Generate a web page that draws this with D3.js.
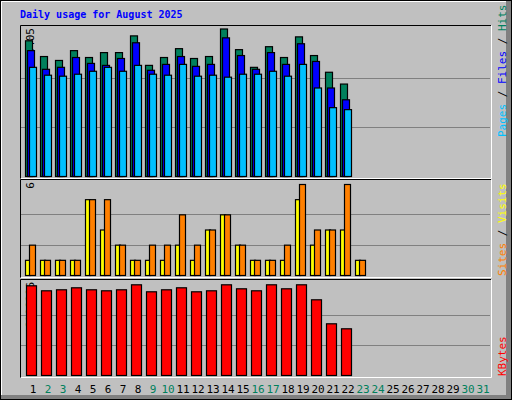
<!DOCTYPE html>
<html>
<head>
<meta charset="utf-8">
<script src="https://cdn.jsdelivr.net/npm/d3@7"></script>
<style>body{margin:0;background:#fff}</style>
</head>
<body>
<svg id="chart" width="512" height="400"></svg>
<script>
// values, day 1..23 (23 is an empty day)
const days = d3.range(1, 32);
const weekend = [2, 3, 9, 10, 16, 17, 23, 24, 30, 31];
const hits = [21532, 19036, 18412, 19972, 18880, 19660, 19660, 22312, 17632, 18880, 20284, 18724, 19036, 23405, 20128, 17320, 20596, 18880, 22156, 19192, 16540, 14667, 0];
const files = [19972, 17008, 17320, 18880, 17944, 17632, 18724, 21220, 16852, 17788, 19036, 17476, 17788, 22000, 19192, 17008, 19660, 17788, 21064, 18256, 14043, 12170, 0];
const pages = [17320, 16072, 15916, 16228, 16696, 17320, 16696, 17632, 16228, 16072, 17788, 15916, 16072, 15760, 16228, 16228, 16696, 15916, 17788, 14043, 10923, 10610, 0];
const visits = [1, 1, 1, 1, 5, 3, 2, 1, 1, 1, 2, 1, 3, 4, 2, 1, 1, 1, 5, 2, 3, 3, 1];
const sites = [2, 1, 1, 1, 5, 5, 2, 1, 2, 2, 4, 2, 3, 4, 2, 1, 1, 2, 6, 3, 3, 6, 1];
const kbytes = [6909080, 6523950, 6600980, 6755030, 6600980, 6523950, 6600980, 6986106, 6446920, 6600980, 6755030, 6446920, 6523950, 6986106, 6678000, 6523950, 6986106, 6678000, 6986106, 5830790, 3982200, 3597070, 0];

const svg = d3.select("#chart");
const mono = "DejaVu Sans Mono";

// frame
svg.append("rect").attr("x", 0.5).attr("y", 0.5).attr("width", 511).attr("height", 399)
    .attr("fill", "#c0c0c0").attr("stroke", "#000");
svg.append("rect").attr("x", 506).attr("y", 1).attr("width", 5).attr("height", 398).attr("fill", "#808080");
svg.append("rect").attr("x", 1).attr("y", 395).attr("width", 510).attr("height", 4).attr("fill", "#808080");
svg.append("path").attr("d", "M1.5,395V1.5H506").attr("stroke", "#fff").attr("fill", "none");

svg.append("text").attr("x", 20).attr("y", 18).attr("font-family", mono).attr("font-weight", "bold")
    .attr("font-size", 10).attr("fill", "#0000ff").text("Daily usage for August 2025");

const x = d3.scaleBand().domain(days).range([22, 487]);

// panels: top, baseline, max value
const panels = [
    {y0: 25, base: 176, top: 28.5, max: d3.max(hits)},
    {y0: 179, base: 275, top: 184, max: d3.max(sites)},
    {y0: 279, base: 375, top: 284.3, max: d3.max(kbytes)}
];
panels.forEach(p => {
    p.y = d3.scaleLinear().domain([0, p.max]).range([p.base, p.top]);
    svg.append("rect").attr("x", 20).attr("y", p.y0).attr("width", 471).attr("height", p.base + 2 - p.y0)
        .attr("fill", "#c0c0c0");
    svg.append("path").attr("d", `M20.5,${p.base + 2.5}V${p.y0 + 0.5}H491`).attr("stroke", "#000").attr("fill", "none");
    svg.append("path").attr("d", `M21,${p.base + 2.5}H491.5V${p.y0 + 0.5}`).attr("stroke", "#fff").attr("fill", "none");
    [1 / 3, 2 / 3].forEach(f => {
        const gy = Math.round(p.base - (p.base - p.top) * f) + 0.5;
        svg.append("line").attr("x1", 21).attr("x2", 490).attr("y1", gy).attr("y2", gy).attr("stroke", "#808080");
    });
    svg.append("text").attr("transform", `translate(34,${p.y0 + 3}) rotate(-90)`).attr("text-anchor", "end")
        .attr("font-family", mono).attr("font-size", 11).text(p.max);
});

function bars(data, panel, dx, w, color) {
    svg.append("g").selectAll("rect").data(data).join("rect")
        .attr("x", (d, i) => x(i + 1) + dx + 0.5)
        .attr("y", d => panel.y(d) + 0.5)
        .attr("width", w)
        .attr("height", d => panel.base - panel.y(d))
        .attr("fill", color).attr("stroke", "#000").attr("stroke-width", 1.2);
}
bars(hits, panels[0], 3, 7, "#00805c");
bars(files, panels[0], 5, 7, "#0000ff");
bars(pages, panels[0], 7, 7, "#00c0ff");
bars(visits, panels[1], 3, 5, "#ffff00");
bars(sites, panels[1], 7, 6, "#ff8000");
bars(kbytes, panels[2], 4, 10, "#ff0000");

// day labels
svg.append("g").selectAll("text").data(days).join("text")
    .attr("x", d => x(d) + 11).attr("y", 393).attr("text-anchor", "middle")
    .attr("font-family", mono).attr("font-size", 11)
    .attr("fill", d => weekend.includes(d) ? "#00805c" : "#000").text(d => d);

// right side legends
function legend(parts, yBottom) {
    const t = svg.append("text").attr("transform", `translate(506,${yBottom}) rotate(-90)`)
        .attr("font-family", mono).attr("font-size", 11);
    parts.forEach(([s, c]) => t.append("tspan").attr("fill", c).text(s));
}
legend([["Pages", "#00c0ff"], [" / ", "#000"], ["Files", "#0000ff"], [" / ", "#000"], ["Hits", "#00805c"]], 137);
legend([["Sites", "#ff8000"], [" / ", "#000"], ["Visits", "#ffff00"]], 276);
legend([["KBytes", "#ff0000"]], 376);
</script>
</body>
</html>
